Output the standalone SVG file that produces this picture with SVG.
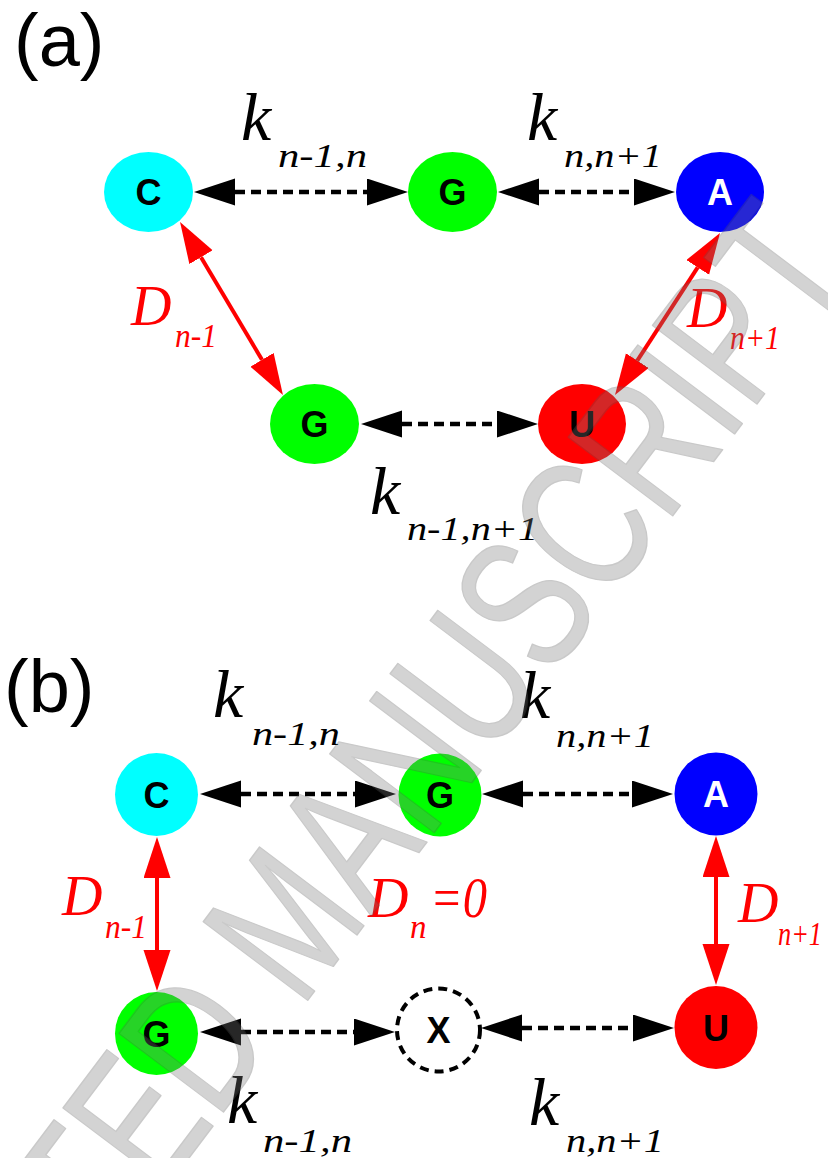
<svg xmlns="http://www.w3.org/2000/svg" width="828" height="1158" viewBox="0 0 828 1158">
<style>
.lbl{font-family:"Liberation Sans",Arial,sans-serif;font-weight:bold;font-size:36px;text-anchor:middle;}
.ttl{font-family:"Liberation Sans",Arial,sans-serif;font-size:74px;fill:#000;}
.k{font-family:"Liberation Serif","Times New Roman",serif;font-style:italic;font-size:68px;fill:#000;}
.sub{font-family:"Liberation Serif","Times New Roman",serif;font-style:italic;font-size:33px;}
.D{font-family:"Liberation Serif","Times New Roman",serif;font-style:italic;font-size:56px;fill:#ff0000;}
.rs{fill:#ff0000;}
.bs{fill:#000;}
.dash{stroke:#000;stroke-width:4.5;stroke-dasharray:10,6;fill:none;}
.red{stroke:#ff0000;stroke-width:4;fill:none;}
.wm{font-family:"Liberation Sans",Arial,sans-serif;font-size:190px;fill:#7a7a7a;stroke:#5a5a5a;stroke-width:1.5;stroke-linejoin:round;opacity:0.32;}
</style>
<defs>
<marker id="hb" markerUnits="userSpaceOnUse" markerWidth="42" markerHeight="28" refX="0" refY="13.5" orient="auto-start-reverse" viewBox="0 0 42 28">
<path d="M0,0 L41,13.5 L0,27 Z" fill="#000"/>
</marker>
<marker id="hr" markerUnits="userSpaceOnUse" markerWidth="42" markerHeight="28" refX="0" refY="13.5" orient="auto-start-reverse" viewBox="0 0 42 28">
<path d="M0,0 L41,13.5 L0,27 Z" fill="#ff0000"/>
</marker>
</defs>
<rect x="0" y="0" width="828" height="1158" fill="#fff"/>

<text class="ttl" x="14" y="66">(a)</text>
<text class="ttl" x="4" y="712">(b)</text>

<g id="connectors">
<line class="dash" x1="235" y1="192" x2="367" y2="192" marker-start="url(#hb)" marker-end="url(#hb)"/>
<line class="dash" x1="539" y1="192" x2="634" y2="192" marker-start="url(#hb)" marker-end="url(#hb)"/>
<line class="dash" x1="402" y1="424" x2="497" y2="424" marker-start="url(#hb)" marker-end="url(#hb)"/>
<line class="red" x1="201" y1="257.2" x2="262" y2="359.8" marker-start="url(#hr)" marker-end="url(#hr)"/>
<line class="red" x1="697.7" y1="267.4" x2="637.3" y2="360.6" marker-start="url(#hr)" marker-end="url(#hr)"/>
<line class="dash" x1="241" y1="794" x2="355" y2="794" marker-start="url(#hb)" marker-end="url(#hb)"/>
<line class="dash" x1="523" y1="794" x2="632" y2="794" marker-start="url(#hb)" marker-end="url(#hb)"/>
<line class="dash" x1="241" y1="1032" x2="354" y2="1032" marker-start="url(#hb)" marker-end="url(#hb)"/>
<line class="dash" x1="522" y1="1028" x2="633" y2="1028" marker-start="url(#hb)" marker-end="url(#hb)"/>
<line class="red" x1="157" y1="878" x2="157" y2="950" marker-start="url(#hr)" marker-end="url(#hr)"/>
<line class="red" x1="716" y1="877" x2="716" y2="944" marker-start="url(#hr)" marker-end="url(#hr)"/>
</g>

<g id="a-C"><ellipse cx="148.5" cy="192" rx="44.5" ry="40" fill="#00ffff"/><text class="lbl" x="148.5" y="205" fill="#000">C</text></g>
<g id="a-G1"><ellipse cx="452.5" cy="192" rx="44.5" ry="40" fill="#00ff00"/><text class="lbl" x="452.5" y="205" fill="#000">G</text></g>
<g id="a-A"><ellipse cx="720" cy="192" rx="44" ry="40" fill="#0000ff"/><text class="lbl" x="720" y="205" fill="#fff">A</text></g>
<g id="a-G2"><ellipse cx="314.5" cy="424" rx="44.5" ry="40" fill="#00ff00"/><text class="lbl" x="314.5" y="437" fill="#000">G</text></g>
<g id="a-U"><ellipse cx="582" cy="424" rx="44" ry="40" fill="#ff0000"/><text class="lbl" x="582" y="437" fill="#000">U</text></g>

<g id="b-C"><circle cx="156.5" cy="794.5" r="41.5" fill="#00ffff"/><text class="lbl" x="156.5" y="807.5" fill="#000">C</text></g>
<g id="b-G1"><circle cx="440" cy="795" r="41.5" fill="#00ff00"/><text class="lbl" x="440" y="808" fill="#000">G</text></g>
<g id="b-A"><circle cx="716" cy="794" r="41.5" fill="#0000ff"/><text class="lbl" x="716" y="807" fill="#fff">A</text></g>
<g id="b-G2"><circle cx="156.5" cy="1033.5" r="41.5" fill="#00ff00"/><text class="lbl" x="156.5" y="1046.5" fill="#000">G</text></g>
<g id="b-X"><circle cx="438.5" cy="1030" r="41.5" fill="#fff" stroke="#000" stroke-width="4" stroke-dasharray="9,6"/><text class="lbl" x="438.5" y="1043" fill="#000">X</text></g>
<g id="b-U"><circle cx="716" cy="1027.5" r="41.5" fill="#ff0000"/><text class="lbl" x="716" y="1040.5" fill="#000">U</text></g>

<g id="labels">
<text class="k" x="241" y="140">k</text><text class="sub bs" x="278" y="167" textLength="89" lengthAdjust="spacingAndGlyphs">n-1,n</text>
<text class="k" x="527" y="140">k</text><text class="sub bs" x="564" y="167" textLength="98" lengthAdjust="spacingAndGlyphs">n,n+1</text>
<text class="D" x="131" y="325">D</text><text class="sub rs" x="175" y="347" textLength="42" lengthAdjust="spacingAndGlyphs">n-1</text>
<text class="D" x="687" y="327">D</text><text class="sub rs" x="730" y="349" textLength="50" lengthAdjust="spacingAndGlyphs">n+1</text>
<text class="k" x="370" y="514">k</text><text class="sub bs" x="407" y="540" textLength="131" lengthAdjust="spacingAndGlyphs">n-1,n+1</text>

<text class="k" x="213" y="717">k</text><text class="sub bs" x="252" y="745" textLength="88" lengthAdjust="spacingAndGlyphs">n-1,n</text>
<text class="k" x="520" y="718">k</text><text class="sub bs" x="556" y="747" textLength="98" lengthAdjust="spacingAndGlyphs">n,n+1</text>
<text class="D" x="62" y="915">D</text><text class="sub rs" x="105" y="938" textLength="42" lengthAdjust="spacingAndGlyphs">n-1</text>
<text class="D" x="368" y="917">D</text><text class="sub rs" x="410" y="938">n</text><text class="D" x="430" y="917" textLength="57" lengthAdjust="spacingAndGlyphs">=0</text>
<text class="D" x="738" y="922">D</text><text class="sub rs" x="778" y="945" textLength="44" lengthAdjust="spacingAndGlyphs">n+1</text>
<text class="k" x="227" y="1123">k</text><text class="sub bs" x="263" y="1152" textLength="89" lengthAdjust="spacingAndGlyphs">n-1,n</text>
<text class="k" x="529" y="1125">k</text><text class="sub bs" x="566" y="1152" textLength="98" lengthAdjust="spacingAndGlyphs">n,n+1</text>
</g>

<g id="watermark">
<text class="wm" transform="translate(109,1264) rotate(-53)" x="0" y="0" textLength="1244" lengthAdjust="spacingAndGlyphs">TED MANUSCRIPT</text>
</g>
</svg>
